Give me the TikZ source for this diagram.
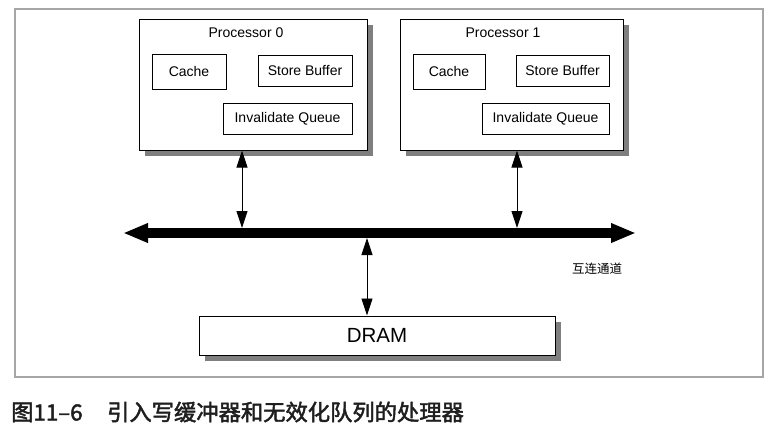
\documentclass[tikz,border=0pt]{standalone}
\usepackage{fontspec}
\setmainfont{Liberation Sans}
\newfontfamily\cjk{Noto Sans CJK SC}
\newfontfamily\cjkcap[FakeBold=2]{Noto Sans CJK SC}
\usetikzlibrary{arrows.meta,shadows}
\definecolor{shadowgray}{HTML}{7F7F7F}
\definecolor{framegray}{HTML}{A6A6A6}
\definecolor{captext}{HTML}{1E1E1E}
\tikzset{
  procbox/.style={draw=black,line width=1pt,fill=white,rectangle,inner sep=0pt,
    drop shadow={shadow xshift=6pt,shadow yshift=-6pt,fill=shadowgray,opacity=1}},
  unitbox/.style={draw=black,line width=0.9pt,fill=white,rectangle,inner sep=0pt,
    font=\fontsize{14}{16}\selectfont},
  proclabel/.style={inner sep=0pt,font=\fontsize{14}{16}\selectfont},
  link/.style={line width=0.9pt,{Triangle[length=17pt,width=11pt]}-{Triangle[length=17pt,width=11pt]}},
  bus/.style={line width=10pt,{Triangle[length=25pt,width=18pt]}-{Triangle[length=25pt,width=18pt]}}
}
\begin{document}
\begin{tikzpicture}[x=1pt,y=-1pt]
\useasboundingbox (0,0) rectangle (781,432);
\fill[white] (0,0) rectangle (781,432);
% outer frame
\draw[framegray,line width=1.5pt] (15,9) rectangle (763,377);
% processors
\node[procbox,minimum width=228pt,minimum height=131pt] (p0) at (253,84.5) {};
\node[procbox,minimum width=223pt,minimum height=131pt] (p1) at (511.5,84.5) {};
\node[proclabel] (p0l) at (246,33) {Processor 0};
\node[proclabel] (p1l) at (503,33) {Processor 1};
% units processor 0
\node[unitbox,minimum width=74pt,minimum height=35pt] (c0) at (189,71.5) {Cache};
\node[unitbox,minimum width=94pt,minimum height=31pt] (s0) at (305,70.5) {Store Buffer};
\node[unitbox,minimum width=129pt,minimum height=31pt] (q0) at (287.5,118.5) {Invalidate Queue};
% units processor 1
\node[unitbox,minimum width=72pt,minimum height=35pt] (c1) at (449,71.5) {Cache};
\node[unitbox,minimum width=93pt,minimum height=31pt] (s1) at (562.5,70.5) {Store Buffer};
\node[unitbox,minimum width=127pt,minimum height=31pt] (q1) at (545.5,118.5) {Invalidate Queue};
% DRAM
\node[procbox,minimum width=356pt,minimum height=39pt,font=\fontsize{20.5}{23}\selectfont] (dram) at (377,335.5) {DRAM};
% bus
\coordinate (busL) at (123,233);
\coordinate (busR) at (636,233);
\draw[bus] (busL) -- (busR);
\coordinate (b0) at (242,228);
\coordinate (b1) at (517,228);
\coordinate (bd) at (367,238);
\draw[link] (p0.south -| b0) -- (b0);
\draw[link] (p1.south -| b1) -- (b1);
\draw[link] (bd) -- (dram.north -| bd);
\node[inner sep=0pt,font=\cjk\fontsize{12.5}{14}\selectfont] (buslabel) at (597,269) {互连通道};
% caption
\node[inner sep=0pt,anchor=west,text=captext,font=\cjkcap\fontsize{22.3}{25}\selectfont] (cap) at (11,412) {图11–6\hspace{1.1em}引入写缓冲器和无效化队列的处理器};
\end{tikzpicture}
\end{document}
